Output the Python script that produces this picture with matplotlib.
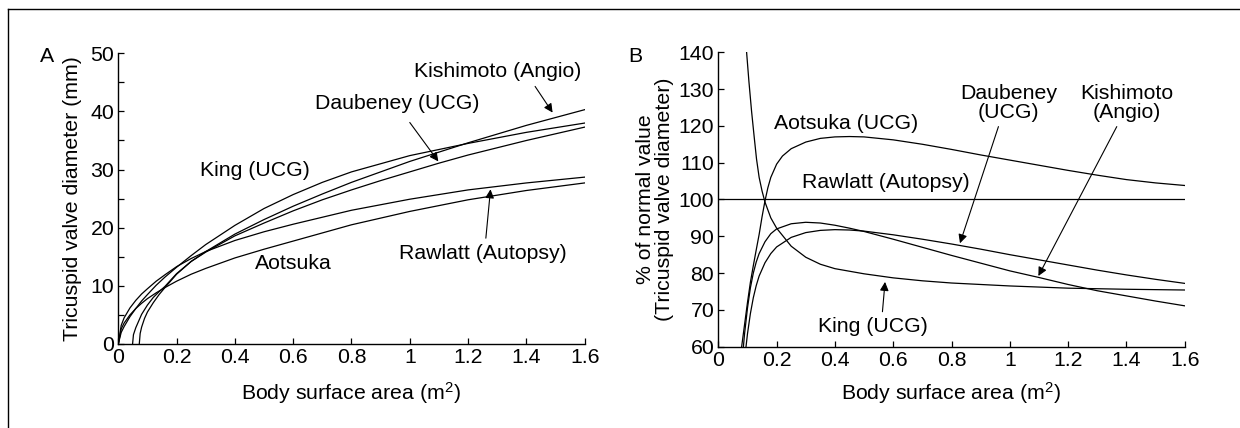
import matplotlib
matplotlib.use("Agg")
import matplotlib.pyplot as plt
from matplotlib.lines import Line2D

plt.rcParams['font.family'] = ['Liberation Sans', 'DejaVu Sans']
plt.rcParams['mathtext.fontset'] = 'custom'
plt.rcParams['mathtext.rm'] = 'Liberation Sans'
plt.rcParams['mathtext.it'] = 'Liberation Sans'

# ---- panel A: tricuspid valve diameter (mm) vs BSA ----
a_king_x = [0, 0.01, 0.02, 0.04, 0.06, 0.08, 0.1, 0.13, 0.16, 0.2, 0.25, 0.3, 0.4, 0.5, 0.6, 0.7, 0.8, 1.0, 1.2, 1.4, 1.6]
a_king_y = [0, 2.0, 3.0, 4.7, 6.1, 7.4, 8.5, 10.1, 11.5, 13.2, 15.2, 17.1, 20.4, 23.3, 25.7, 27.8, 29.6, 32.4, 34.5, 36.4, 38.0]
a_rawlatt_x = a_king_x
a_rawlatt_y = [0, 3.2, 4.5, 6.2, 7.5, 8.6, 9.5, 10.8, 11.9, 13.3, 14.7, 15.9, 17.8, 19.3, 20.6, 21.8, 23.0, 24.9, 26.5, 27.7, 28.7]
a_aotsuka_x = a_king_x
a_aotsuka_y = [0, 2.6, 3.6, 5.0, 6.1, 7.0, 7.8, 8.8, 9.7, 10.8, 12.0, 13.0, 14.8, 16.3, 17.7, 19.1, 20.5, 22.8, 24.8, 26.4, 27.7]
a_kishimoto_x = [0.072, 0.075, 0.08, 0.09, 0.1, 0.12, 0.14, 0.16, 0.2, 0.25, 0.3, 0.4, 0.5, 0.6, 0.7, 0.8, 1.0, 1.2, 1.4, 1.6]
a_kishimoto_y = [0, 1.8, 2.9, 4.4, 5.5, 7.1, 8.5, 9.7, 12.0, 14.2, 15.9, 18.9, 21.4, 23.7, 25.8, 27.8, 31.4, 34.6, 37.6, 40.3]
a_daubeney_x = [0.049, 0.052, 0.06, 0.08, 0.1, 0.12, 0.14, 0.16, 0.2, 0.25, 0.3, 0.4, 0.5, 0.6, 0.7, 0.8, 0.9, 1.0, 1.1, 1.2, 1.4, 1.6]
a_daubeney_y = [0, 1.6, 2.8, 5.1, 6.7, 8.0, 9.0, 9.9, 12.1, 14.2, 15.8, 18.6, 20.8, 22.9, 24.8, 26.5, 28.1, 29.6, 31.1, 32.5, 35.0, 37.3]

# ---- panel B: % of normal value ----
b_rawlatt_x = [0, 1.6]
b_rawlatt_y = [100, 100]
b_aotsuka_x = [0.08, 0.09, 0.1, 0.11, 0.12, 0.13, 0.14, 0.15, 0.16, 0.17, 0.18, 0.2, 0.22, 0.25, 0.3, 0.35, 0.4, 0.45, 0.5,
               0.6, 0.7, 0.8, 0.9, 1.0, 1.1, 1.2, 1.3, 1.4, 1.5, 1.6]
b_aotsuka_y = [60, 66, 72, 77.5, 82, 86.3, 90.5, 95.3, 99.6, 103.2, 106.0, 109.6, 111.8, 113.8, 115.6, 116.6, 117.0, 117.1, 117.0,
               116.2, 115.0, 113.6, 112.1, 110.7, 109.3, 107.9, 106.6, 105.4, 104.5, 103.8]
b_king_x = [0.097, 0.105, 0.114, 0.123, 0.131, 0.14, 0.15, 0.16, 0.18, 0.2, 0.25, 0.3, 0.35, 0.4, 0.5, 0.6, 0.7, 0.8, 1.0, 1.2, 1.4, 1.6]
b_king_y = [140, 132, 124, 117, 111, 106, 102.3, 99.3, 95, 92.2, 87.3, 84.3, 82.4, 81.2, 79.8, 78.7, 77.9, 77.3, 76.5, 75.9, 75.6, 75.4]
b_kishimoto_x = [0.086, 0.09, 0.1, 0.11, 0.12, 0.13, 0.14, 0.16, 0.18, 0.2, 0.25, 0.3, 0.35, 0.4, 0.45, 0.5,
                 0.6, 0.7, 0.8, 0.9, 1.0, 1.1, 1.2, 1.3, 1.4, 1.5, 1.6]
b_kishimoto_y = [60, 63.5, 70.5, 76, 80, 83, 85.3, 88.5, 90.7, 92.0, 93.4, 93.8, 93.6, 93.0, 92.2, 91.3,
                 89.2, 87.0, 84.8, 82.7, 80.6, 78.8, 76.9, 75.2, 73.8, 72.4, 71.1]
b_daubeney_x = [0.095, 0.1, 0.11, 0.12, 0.13, 0.14, 0.16, 0.18, 0.2, 0.25, 0.3, 0.35, 0.4, 0.45, 0.5,
                0.6, 0.7, 0.8, 0.9, 1.0, 1.1, 1.2, 1.3, 1.4, 1.5, 1.6]
b_daubeney_y = [60, 63.5, 69, 73.3, 76.6, 79.2, 82.8, 85.3, 87.1, 89.7, 91.0, 91.6, 91.8, 91.7, 91.4,
                90.4, 89.2, 87.9, 86.5, 85.0, 83.6, 82.2, 80.8, 79.5, 78.3, 77.2]

x_ticks = [0, 0.2, 0.4, 0.6, 0.8, 1.0, 1.2, 1.4, 1.6]
x_tick_labels = ["0", "0.2", "0.4", "0.6", "0.8", "1", "1.2", "1.4", "1.6"]

FS = 15.3
LW = 0.9

fig = plt.figure(figsize=(12.4, 4.28), dpi=100)
axA = fig.add_axes([0.0954, 0.1963, 0.3761, 0.6792])
axB = fig.add_axes([0.5793, 0.19, 0.3761, 0.6879])

arrow = dict(arrowstyle="-|>", color="black", lw=0.8, mutation_scale=13, shrinkA=0, shrinkB=0)

# panel A
for xs, ys in [(a_king_x, a_king_y), (a_rawlatt_x, a_rawlatt_y), (a_aotsuka_x, a_aotsuka_y),
               (a_kishimoto_x, a_kishimoto_y), (a_daubeney_x, a_daubeney_y)]:
    axA.plot(xs, ys, color="black", lw=LW)
axA.set_ylim(0, 50)
axA.set_yticks([0, 10, 20, 30, 40, 50])
axA.set_yticks([5, 15, 25, 35, 45], minor=True)

axA.text(1.30, 46.9, "Kishimoto (Angio)", fontsize=FS, ha="center", va="center")
axA.annotate("", xy=(1.49, 39.8), xytext=(1.43, 44.3), arrowprops=arrow)
axA.text(0.958, 41.3, "Daubeney (UCG)", fontsize=FS, ha="center", va="center")
axA.annotate("", xy=(1.098, 31.4), xytext=(1.0, 38.1), arrowprops=arrow)
axA.text(0.469, 29.8, "King (UCG)", fontsize=FS, ha="center", va="center")
axA.text(0.60, 13.9, "Aotsuka", fontsize=FS, ha="center", va="center")
axA.text(1.25, 15.5, "Rawlatt (Autopsy)", fontsize=FS, ha="center", va="center")
axA.annotate("", xy=(1.277, 26.6), xytext=(1.261, 18.2), arrowprops=arrow)

# panel B
for xs, ys in [(b_rawlatt_x, b_rawlatt_y), (b_aotsuka_x, b_aotsuka_y), (b_king_x, b_king_y),
               (b_kishimoto_x, b_kishimoto_y), (b_daubeney_x, b_daubeney_y)]:
    axB.plot(xs, ys, color="black", lw=LW)
axB.set_ylim(60, 140)
axB.set_yticks([60, 70, 80, 90, 100, 110, 120, 130, 140])

axB.text(0.997, 126.1, "Daubeney\n(UCG)", fontsize=FS, ha="center", va="center", linespacing=1.0)
axB.annotate("", xy=(0.829, 88.1), xytext=(0.961, 119.8), arrowprops=arrow)
axB.text(1.401, 126.1, "Kishimoto\n(Angio)", fontsize=FS, ha="center", va="center", linespacing=1.0)
axB.annotate("", xy=(1.098, 79.2), xytext=(1.367, 119.8), arrowprops=arrow)
axB.text(0.44, 120.7, "Aotsuka (UCG)", fontsize=FS, ha="center", va="center")
axB.text(0.574, 104.6, "Rawlatt (Autopsy)", fontsize=FS, ha="center", va="center")
axB.text(0.532, 65.4, "King (UCG)", fontsize=FS, ha="center", va="center")
axB.annotate("", xy=(0.572, 77.6), xytext=(0.563, 69.5), arrowprops=arrow)

for ax in (axA, axB):
    for side in ("top", "right"):
        ax.spines[side].set_visible(False)
    for side in ("left", "bottom"):
        ax.spines[side].set_linewidth(1.0)
    ax.set_xlim(0, 1.6)
    ax.set_xticks(x_ticks)
    ax.set_xticklabels(x_tick_labels)
    ax.tick_params(which="both", direction="in", length=4, width=0.9, labelsize=FS, pad=3)

# axis titles and panel letters
fig.text(73 / 1240, 1 - 199 / 428, "Tricuspid valve diameter (mm)", rotation=90,
         fontsize=FS, ha="center", va="center")
fig.text(655 / 1240, 1 - 199 / 428, "% of normal value\n(Tricuspid valve diameter)", rotation=90,
         fontsize=FS, ha="center", va="center", linespacing=1.0)
fig.text(351 / 1240, 1 - 393 / 428, "Body surface area (m$^2$)", fontsize=FS, ha="center", va="center")
fig.text(951 / 1240, 1 - 393 / 428, "Body surface area (m$^2$)", fontsize=FS, ha="center", va="center")
fig.text(47 / 1240, 1 - 56 / 428, "A", fontsize=FS, ha="center", va="center")
fig.text(635 / 1240, 1 - 56 / 428, "B", fontsize=FS, ha="center", va="center")

# frame lines (top and left edge of the figure box)
ytop = 1 - 9.3 / 428
xleft = 8 / 1240
fig.add_artist(Line2D([xleft, 1], [ytop, ytop], transform=fig.transFigure, color="black", lw=1.0))
fig.add_artist(Line2D([xleft, xleft], [0, ytop], transform=fig.transFigure, color="black", lw=1.0))

fig.savefig("out.png", dpi=100)
